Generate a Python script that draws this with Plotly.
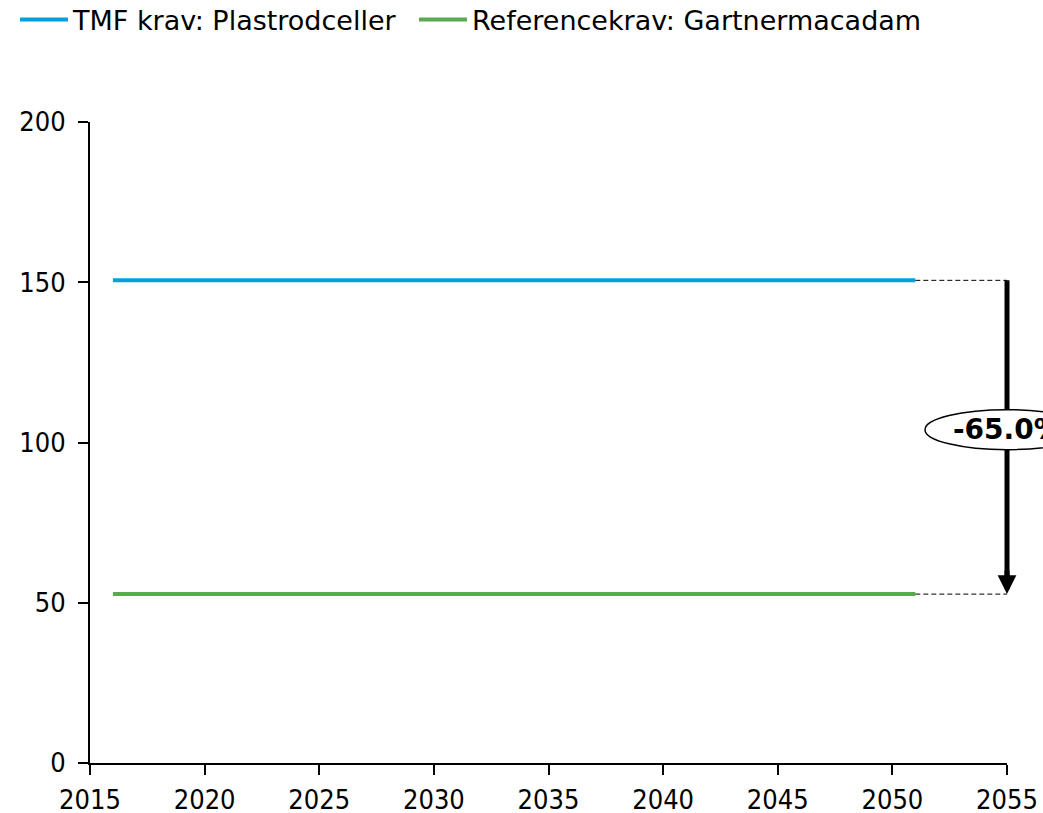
import plotly.graph_objects as go

# ---- data ----
years = [2016, 2051]
tmf_values = [150.6, 150.6]
ref_values = [52.7, 52.7]
series_names = ["TMF krav: Plastrodceller", "Referencekrav: Gartnermacadam"]
series_colors = ["#00A0E1", "#5AAA50"]
legend_widths = [336, 460]
change_label = "-65.0%"
x_ticks = [2015, 2020, 2025, 2030, 2035, 2040, 2045, 2050, 2055]
y_ticks = [0, 50, 100, 150, 200]

FONT = "DejaVu Sans, Verdana, sans-serif"
TICK_FONT = "DejaVu Sans Condensed, Liberation Sans, sans-serif"

fig = go.Figure()
for name, vals, col, lw in zip(series_names, [tmf_values, ref_values], series_colors, legend_widths):
    fig.add_trace(go.Scatter(x=years, y=vals, mode="lines", name=name, legendwidth=lw,
                             line=dict(color=col, width=4)))

top = tmf_values[-1]
bot = ref_values[-1]
label_y = 104

shapes = []
# dashed connectors
for v in (top, bot):
    shapes.append(dict(type="line", xref="x", yref="y", x0=years[-1], x1=x_ticks[-1],
                       y0=v, y1=v, line=dict(color="black", width=1, dash="5px,3px")))
# arrow shaft
shapes.append(dict(type="line", xref="paper", yref="y", x0=1, x1=1, y0=top, y1=bot + 3,
                   line=dict(color="black", width=5)))
# ellipse label background
shapes.append(dict(type="circle", xref="paper", yref="y", xsizemode="pixel", ysizemode="pixel",
                   xanchor=1, yanchor=label_y, x0=-82, x1=82, y0=-20, y1=20,
                   fillcolor="white", line=dict(color="black", width=1.5)))

annotations = [
    dict(xref="paper", yref="y", x=1, y=bot, text="", showarrow=True, ax=0, ay=-25,
         arrowhead=2, arrowsize=0.75, arrowwidth=5, arrowcolor="black"),
    dict(xref="paper", yref="y", x=1, y=label_y, text="<b>" + change_label + "</b>",
         showarrow=False, xanchor="center", yanchor="middle",
         font=dict(family=FONT, size=28, color="black")),
]

fig.update_layout(
    width=1043, height=813,
    paper_bgcolor="white", plot_bgcolor="white",
    margin=dict(l=90, r=36, t=122, b=50, autoexpand=False),
    font=dict(family=FONT, size=24, color="black"),
    showlegend=True,
    legend=dict(orientation="h", xref="paper", yref="paper", x=-0.0818, y=1.1975,
                xanchor="left", yanchor="top", font=dict(size=27, family=FONT),
                itemwidth=48, borderwidth=0,
                bgcolor="rgba(0,0,0,0)", traceorder="normal"),
    shapes=shapes,
    annotations=annotations,
)
fig.update_xaxes(range=[x_ticks[0], x_ticks[-1]], tickvals=x_ticks, showgrid=False, zeroline=False,
                 showline=True, linecolor="black", linewidth=2, ticks="outside", ticklen=10,
                 tickwidth=1.5, tickcolor="black", automargin=False, ticklabelstandoff=2,
                 tickfont=dict(size=27, family=TICK_FONT))
fig.update_yaxes(range=[y_ticks[0], y_ticks[-1]], tickvals=y_ticks, showgrid=False, zeroline=False,
                 showline=True, linecolor="black", linewidth=2, ticks="outside", ticklen=10,
                 tickwidth=1.5, tickcolor="black", automargin=False, ticklabelstandoff=7,
                 tickfont=dict(size=27, family=TICK_FONT))

fig.write_html("out.html", config={"displayModeBar": False},
               post_script="document.body.style.margin='0';document.body.style.overflow='hidden';")
